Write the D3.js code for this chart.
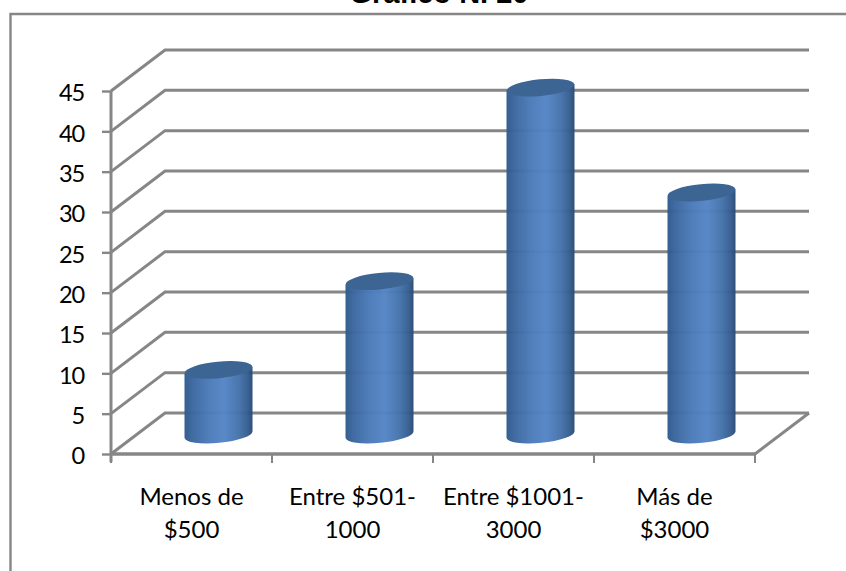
<!DOCTYPE html>
<html><head><meta charset="utf-8">
<script src="https://cdn.jsdelivr.net/npm/d3@7"></script>
<style>html,body{margin:0;padding:0;background:#fff;overflow:hidden}svg{display:block}</style>
</head><body><svg id="c" width="846" height="571"></svg>
<script>
const categories = ["Menos de|$500", "Entre $501-|1000", "Entre $1001-|3000", "Más de|$3000"];
const values = [8, 19, 43, 30];
const tickValues = [0,5,10,15,20,25,30,35,40,45];
const titleText = "Gráfico N. 20";

const GRID = "#868686";
const depthX = 54, depthY = -41;
const x0 = 111, x1 = 755, yBase = 454, yTop = 91;
const svg = d3.select("#c");

svg.append("path").attr("d","M846,14H10.5V571").attr("fill","none").attr("stroke",GRID).attr("stroke-width",2.4);

svg.append("text").attr("x",439).attr("y",3).attr("text-anchor","middle")
  .attr("font-family","Liberation Sans").attr("font-weight","bold").attr("font-size",29).attr("fill","#000").text(titleText);

const y = d3.scaleLinear().domain([0,45]).range([yBase,yTop]);
const xEdge = d3.scaleBand().domain(categories).range([x0,x1]);
const xBar = d3.scaleBand().domain(categories).range([x0+depthX/2,x1+depthX/2]);

const grid = svg.append("g").attr("fill","none").attr("stroke",GRID).attr("stroke-width",3);
grid.selectAll("path").data(tickValues).join("path")
  .attr("d", v => `M${x0},${y(v)}L${x0+depthX},${y(v)+depthY}H${x1+depthX}`);
grid.append("path").attr("d",`M${x1},${yBase}L${x1+depthX},${yBase+depthY}`);

const yAxis = svg.append("g").attr("transform",`translate(${x0},0)`)
  .call(d3.axisLeft(y).tickValues(tickValues).tickSize(9).tickPadding(18).tickFormat(d3.format("d")));
const xAxis = svg.append("g").attr("transform",`translate(0,${yBase})`)
  .call(d3.axisBottom(xEdge).tickSize(0).tickFormat(""));
[yAxis,xAxis].forEach(a=>{a.selectAll("path.domain").remove();});
yAxis.append("path").attr("d",`M0,${yTop}V${yBase+8}`).attr("stroke",GRID).attr("stroke-width",3);
xAxis.append("path").attr("d",`M${x0},0H${x1}`).attr("stroke",GRID).attr("stroke-width",3.6);
yAxis.selectAll(".tick line").attr("stroke",GRID).attr("stroke-width",2.4);
yAxis.selectAll(".tick text").attr("font-family","Lato").attr("font-size",23.6).attr("letter-spacing","-1.2px").attr("fill","#000").attr("dy","0.42em");
xAxis.selectAll(".tick").remove();
xAxis.selectAll("line.t").data(d3.range(0,5)).join("line").attr("class","t")
  .attr("x1",i=>x0+i*xEdge.step()).attr("x2",i=>x0+i*xEdge.step()).attr("y1",0).attr("y2",9)
  .attr("stroke",GRID).attr("stroke-width",2);

const defs = svg.append("defs");
const grad = defs.append("linearGradient").attr("id","cyl");
[[0,"#2f5a8e"],[0.12,"#3b679f"],[0.35,"#4a7ab8"],[0.58,"#5585c6"],[0.8,"#4472aa"],[0.93,"#355d8f"],[1,"#284a75"]]
  .forEach(s=>grad.append("stop").attr("offset",s[0]).attr("stop-color",s[1]));

const rx = 34, ry = 8.3, rot = -5.5, tilt = Math.tan(rot*Math.PI/180)*rx;
const midOffset = depthY/2;
const bars = svg.append("g").selectAll("g").data(categories).join("g");
bars.each(function(c,i){
  const cx = xBar(c)+xBar.bandwidth()/2;
  const yb = y(0)+midOffset+1, yt = y(values[i])+midOffset+1;
  const g = d3.select(this);
  g.append("path").attr("fill","url(#cyl)").attr("fill-opacity",0.97)
   .attr("d",`M${cx-rx},${yt-tilt}L${cx+rx},${yt+tilt}L${cx+rx},${yb+tilt}A${rx},${ry} ${rot} 0 1 ${cx-rx},${yb-tilt}Z`);
  g.append("ellipse").attr("cx",cx).attr("cy",yt).attr("rx",rx).attr("ry",ry)
   .attr("transform",`rotate(${rot} ${cx} ${yt})`).attr("fill","#3c6594");
});

const labels = svg.append("g").attr("font-family","Lato").attr("font-size",24).attr("fill","#000").attr("text-anchor","middle");
categories.forEach(c=>{
  const cx = xEdge(c)+xEdge.bandwidth()/2;
  c.split("|").forEach((t,j)=>labels.append("text").attr("x",cx).attr("y",505+j*33).text(t));
});
</script></body></html>
